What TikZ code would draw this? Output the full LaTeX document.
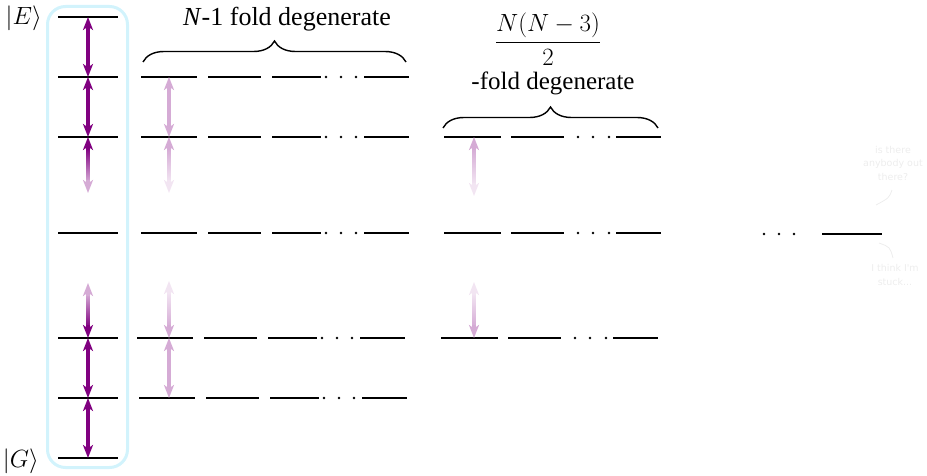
\documentclass[tikz,border=0pt]{standalone}
\usepackage{fontspec}
\setmainfont{Liberation Serif}
\newfontfamily\timesfont{Liberation Serif}
\newfontfamily\faintfont{DejaVu Sans}
\usetikzlibrary{arrows.meta,decorations.pathreplacing,calc}
\definecolor{dpurple}{RGB}{128,0,128}
\definecolor{boxcyan}{RGB}{210,243,252}
\colorlet{mpurple}{dpurple!33}
\colorlet{lpurple}{dpurple!10}
\colorlet{faintgray}{black!7}
\tikzset{
  level/.style={line width=2pt, black},
  dotmark/.style={fill=black},
  dbl/.style={line width=3.2pt, {Stealth[length=13pt,width=10pt,inset=3.5pt]}-{Stealth[length=13pt,width=10pt,inset=3.5pt]}},
  head/.style={line width=3.2pt, -{Stealth[length=13pt,width=10pt,inset=3.5pt]}},
  bracebig/.style={line width=1.4pt, decorate, decoration={brace, amplitude=21pt}},
  labeltext/.style={inner sep=0pt, font=\timesfont\fontsize{26}{30}\selectfont},
  smalllabel/.style={inner sep=0pt, font=\timesfont\fontsize{25}{29}\selectfont},
  ketlabel/.style={inner sep=0pt, anchor=east, font=\fontsize{23}{27}\selectfont},
  faint/.style={text=faintgray, align=center, inner sep=0pt, font=\faintfont\fontsize{9.5}{13.5}\selectfont},
  faintline/.style={draw=faintgray, line width=0.8pt},
}
% row of the N-1 fold block: start x, y
\newcommand{\rowA}[2]{%
  \begin{scope}[shift={(#1,#2)}]
    \draw[level] (0,0) -- (56,0);
    \draw[level] (67,0) -- (120,0);
    \draw[level] (131,0) -- (180,0);
    \fill[dotmark] (185,0) circle (1.4) (200,0) circle (1.4) (215,0) circle (1.4);
    \draw[level] (223,0) -- (268,0);
  \end{scope}}
% row of the N(N-3)/2 fold block: start x, y
\newcommand{\rowB}[2]{%
  \begin{scope}[shift={(#1,#2)}]
    \draw[level] (0,0) -- (57,0);
    \draw[level] (67,0) -- (120,0);
    \fill[dotmark] (134,0) circle (1.4) (149,0) circle (1.4) (165,0) circle (1.4);
    \draw[level] (172,0) -- (217,0);
  \end{scope}}
% arrow whose colour fades: from, to, top colour, bottom colour
\newcommand{\gradarrow}[4]{%
  \shade[top color=#3, bottom color=#4] ($(#1)+(-1.6,11)$) rectangle ($(#2)+(1.6,-11)$);
  \draw[head, #3] ($(#1)+(0,13)$) -- (#1);
  \draw[head, #4] ($(#2)+(0,-13)$) -- (#2);}
\begin{document}
\begin{tikzpicture}[x=1pt,y=-1pt]
\useasboundingbox (0,0) rectangle (927,476);
% frame round the first column
\draw[boxcyan, line width=3pt, rounded corners=18pt] (47.5,6.5) rectangle (127.5,467.5);
% first column
\foreach \yy in {17,77,137,233,338,398,458} { \draw[level] (58,\yy) -- (118,\yy); }
\node[ketlabel] (E) at (42,18) {$|E\rangle$};
\node[ketlabel] (G) at (39,461) {$|G\rangle$};
% second block
\rowA{141}{77}
\rowA{141}{137}
\rowA{141}{233}
\rowA{137}{338}
\rowA{139}{398}
% third block
\rowB{444}{137}
\rowB{444}{233}
\rowB{441}{338}
% fourth block
\fill[dotmark] (764,234) circle (1.4) (779,234) circle (1.4) (794,234) circle (1.4);
\draw[level] (822,234) -- (882,234);
% arrow end points
\coordinate (a1) at (88,17);
\coordinate (a2) at (88,77);
\coordinate (a3) at (88,137);
\coordinate (a3b) at (88,193);
\coordinate (a5t) at (88,283);
\coordinate (a5) at (88,338);
\coordinate (a6) at (88,398);
\coordinate (a7) at (88,458);
\coordinate (b2) at (169,77);
\coordinate (b3) at (169,137);
\coordinate (b3b) at (169,193);
\coordinate (b5t) at (169,281);
\coordinate (b5) at (169,338);
\coordinate (b6) at (169,398);
\coordinate (c3) at (474,137);
\coordinate (c3b) at (474,196);
\coordinate (c5t) at (474,282);
\coordinate (c5) at (474,338);
% arrows
\draw[dbl, dpurple] (a1) -- (a2);
\draw[dbl, dpurple] (a2) -- (a3);
\draw[dbl, dpurple] (a5) -- (a6);
\draw[dbl, dpurple] (a6) -- (a7);
\gradarrow{a3}{a3b}{dpurple}{mpurple}
\gradarrow{a5t}{a5}{mpurple}{dpurple}
\draw[dbl, mpurple] (b2) -- (b3);
\draw[dbl, mpurple] (b5) -- (b6);
\gradarrow{b3}{b3b}{mpurple}{lpurple}
\gradarrow{b5t}{b5}{lpurple}{mpurple}
\gradarrow{c3}{c3b}{mpurple}{lpurple}
\gradarrow{c5t}{c5}{lpurple}{mpurple}
% braces and their texts
\coordinate (br1s) at (143,62);
\coordinate (br1e) at (406,62);
\draw[bracebig] (br1s) -- (br1e);
\node[labeltext, anchor=base] (t1) at (287,26) {\textit{N}-1 fold degenerate};
\coordinate (br2s) at (443,128);
\coordinate (br2e) at (658,128);
\draw[bracebig] (br2s) -- (br2e);
\node[labeltext] (t2) at (548,39) {$\displaystyle\frac{N(N-3)}{2}$};
\node[smalllabel, anchor=base] (t3) at (553,90) {-fold degenerate};
% faint notes at the right
\node[faint] (q1) at (893,163) {is there\\anybody out\\there?};
\node[faint] (q2) at (895,275) {I think I'm\\stuck...};
\coordinate (q1a) at (892,190);
\coordinate (q1b) at (876,205);
\coordinate (q2a) at (879,243);
\coordinate (q2b) at (893,258);
\draw[faintline] (q1a) .. controls (889,198) .. (q1b);
\draw[faintline] (q2a) .. controls (890,247) .. (q2b);
\end{tikzpicture}
\end{document}
